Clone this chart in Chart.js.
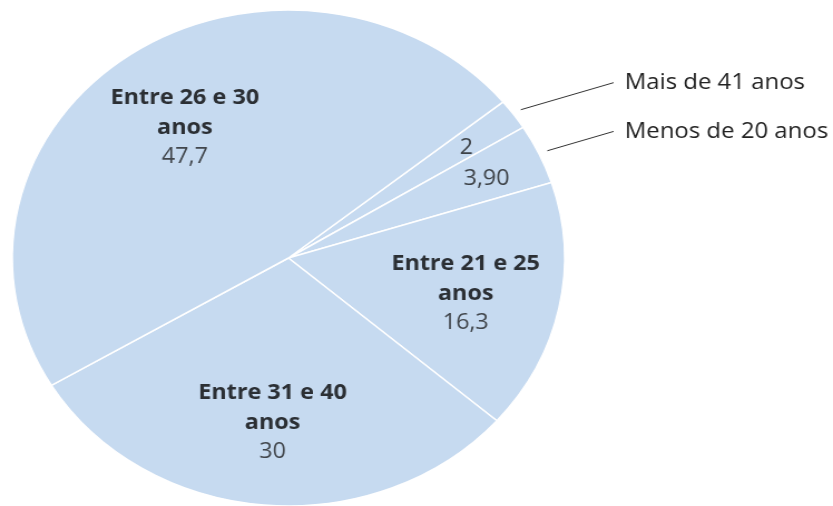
<!DOCTYPE html>
<html>
<head>
<meta charset="utf-8">
<script src="https://cdn.jsdelivr.net/npm/chart.js"></script>
<style>
  html, body { margin: 0; padding: 0; background: #fff; overflow: hidden; }
  #wrap { width: 833px; height: 506px; }
  /* the reference pie is a slightly wide ellipse, so the canvas is stretched */
  #pie { transform: scaleX(1.11364); transform-origin: 0 0; }
</style>
</head>
<body>
<div id="wrap"><canvas id="pie" width="748" height="506"></canvas></div>
<script>
const categorias = ['Mais de 41 anos', 'Menos de 20 anos', 'Entre 21 e 25 anos', 'Entre 31 e 40 anos', 'Entre 26 e 30 anos'];
const valores = [2, 3.9, 16.3, 30, 47.7];
const rotulosValor = ['2', '3,90', '16,3', '30', '47,7'];

const corFatia = 'rgb(198, 218, 240)';
const fonte = '"Open Sans", "Noto Sans", sans-serif';

// draws the labels inside the slices and the leader lines for the small ones
const rotulosPlugin = {
    id: 'rotulos',
    afterDatasetsDraw(chart) {
        var ctx = chart.ctx;
        var arcs = chart.getDatasetMeta(0).data;
        var area = chart.chartArea;
        ctx.save();
        ctx.textAlign = 'center';
        ctx.textBaseline = 'middle';
        arcs.forEach(function(arc, i) {
            var p = arc.getProps(['x', 'y', 'startAngle', 'endAngle', 'outerRadius'], true);
            var mid = (p.startAngle + p.endAngle) / 2;
            var pequena = valores[i] < 5;
            var f = pequena ? 0.79 : 0.655;
            var cx = p.x + Math.cos(mid) * p.outerRadius * f;
            var cy = p.y + Math.sin(mid) * p.outerRadius * f + 3;

            if (pequena) {
                ctx.fillStyle = '#3d4247';
                ctx.font = '21px ' + fonte;
                ctx.fillText(rotulosValor[i], cx, cy);

                // leader line going up-right to the outside label
                var sx = p.x + Math.cos(mid) * (p.outerRadius + 8);
                var sy = p.y + Math.sin(mid) * (p.outerRadius + 8);
                var ex = area.right + 44;
                var ey = sy - (ex - sx) * Math.tan(18 * Math.PI / 180);
                ctx.strokeStyle = '#333';
                ctx.lineWidth = 1;
                ctx.beginPath();
                ctx.moveTo(sx, sy);
                ctx.lineTo(ex, ey);
                ctx.stroke();

                ctx.textAlign = 'left';
                ctx.fillStyle = '#222';
                ctx.font = '21.5px ' + fonte;
                ctx.fillText(categorias[i], ex + 10, ey);
                ctx.textAlign = 'center';
            } else {
                var partes = categorias[i].split(' ');
                var linha2 = partes.pop();
                var linha1 = partes.join(' ');
                var lh = 29.5;
                ctx.fillStyle = '#2b2f34';
                ctx.font = 'bold 21px ' + fonte;
                ctx.fillText(linha1, cx, cy - lh);
                ctx.fillText(linha2, cx, cy);
                ctx.fillStyle = '#41464c';
                ctx.font = '21px ' + fonte;
                ctx.fillText(rotulosValor[i], cx, cy + lh);
            }
        });
        ctx.restore();
    }
};

var ctx = document.getElementById('pie').getContext('2d');

var data = {
    labels: categorias,
    datasets: [
        {
            data: valores,
            backgroundColor: corFatia,
            borderColor: '#ffffff',
            borderWidth: 1.5,
            radius: 248
        }
    ]
};

var options = {
    responsive: false,
    animation: false,
    rotation: 51,
    layout: { padding: { left: 11, top: 10, right: 241, bottom: 0 } },
    plugins: {
        legend: { display: false },
        tooltip: { enabled: false }
    }
};

var config = {
    type: 'pie',
    data: data,
    options: options,
    plugins: [rotulosPlugin]
};
var pie = new Chart(ctx, config);
</script>
</body>
</html>
